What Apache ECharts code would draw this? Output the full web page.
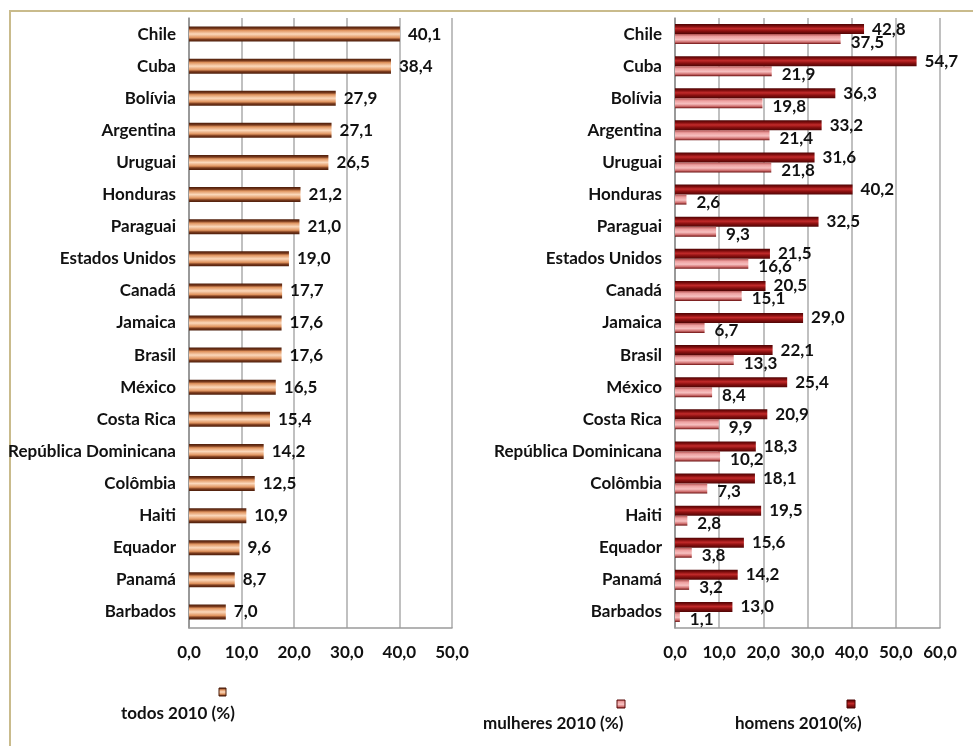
<!DOCTYPE html>
<html>
<head>
<meta charset="utf-8">
<script src="https://cdn.jsdelivr.net/npm/echarts@6/dist/echarts.min.js"></script>
<style>
  html, body { margin: 0; padding: 0; background: #fff; }
  #chart { width: 973px; height: 746px; }
</style>
</head>
<body>
<div id="chart"></div>
<script>
// Population shares (%) in 2010, by country
const countries = ['Chile', 'Cuba', 'Bolívia', 'Argentina', 'Uruguai', 'Honduras', 'Paraguai',
  'Estados Unidos', 'Canadá', 'Jamaica', 'Brasil', 'México', 'Costa Rica',
  'República Dominicana', 'Colômbia', 'Haiti', 'Equador', 'Panamá', 'Barbados'];
const todos = [40.1, 38.4, 27.9, 27.1, 26.5, 21.2, 21.0, 19.0, 17.7, 17.6, 17.6, 16.5, 15.4, 14.2, 12.5, 10.9, 9.6, 8.7, 7.0];
const homens = [42.8, 54.7, 36.3, 33.2, 31.6, 40.2, 32.5, 21.5, 20.5, 29.0, 22.1, 25.4, 20.9, 18.3, 18.1, 19.5, 15.6, 14.2, 13.0];
const mulheres = [37.5, 21.9, 19.8, 21.4, 21.8, 2.6, 9.3, 16.6, 15.1, 6.7, 13.3, 8.4, 9.9, 10.2, 7.3, 2.8, 3.8, 3.2, 1.1];
const seriesNames = ['todos 2010 (%)', 'mulheres 2010 (%)', 'homens 2010(%)'];
const leftAxis = { min: 0, max: 50, interval: 10 };
const rightAxis = { min: 0, max: 60, interval: 10 };

const FONT = 'Lato, "Noto Sans", sans-serif';
const FS = 17;
const TEXT = '#111';
const fmt = v => Number(v).toFixed(1).replace('.', ',');

function vGrad(stops) {
  return new echarts.graphic.LinearGradient(0, 0, 0, 1,
    stops.map(([o, c]) => ({ offset: o, color: c })));
}
const todosFill = () => vGrad([[0, '#4a1c0a'], [0.14, '#7a3a1c'], [0.26, '#e0945f'], [0.5, '#fbd8bb'], [0.74, '#e0945f'], [0.86, '#7a3a1c'], [1, '#4a1c0a']]);
const homensFill = () => vGrad([[0, '#4e0505'], [0.2, '#7c0c0c'], [0.45, '#c22a2a'], [0.7, '#8a1010'], [1, '#4e0505']]);
const mulheresFill = () => vGrad([[0, '#b05050'], [0.25, '#eea0a0'], [0.55, '#f7c0c0'], [0.8, '#d07070'], [1, '#6a0e0e']]);

const labelBase = {
  show: true, position: 'right', color: TEXT, fontFamily: FONT,
  fontWeight: 'bold', fontSize: FS, formatter: p => fmt(p.value)
};

function catAxis(gridIndex) {
  return {
    type: 'category', gridIndex, data: countries, inverse: true,
    axisLine: { show: true, lineStyle: { color: '#8c8c8c', width: 1.5 } },
    axisTick: { show: false },
    axisLabel: { margin: 13, color: TEXT, fontFamily: FONT, fontWeight: 'bold', fontSize: FS }
  };
}
function valAxis(gridIndex, cfg) {
  return {
    type: 'value', gridIndex, min: cfg.min, max: cfg.max, interval: cfg.interval,
    axisLine: { show: true, lineStyle: { color: '#9a9a9a', width: 1.5 } },
    axisTick: { show: false },
    splitLine: { show: true, lineStyle: { color: '#ababab', width: 1.5 } },
    axisLabel: { margin: 16, color: TEXT, fontFamily: FONT, fontWeight: 'bold', fontSize: FS, formatter: fmt }
  };
}

const chart = echarts.init(document.getElementById('chart'), null, { renderer: 'canvas' });
chart.setOption({
  backgroundColor: '#fff',
  animation: false,
  grid: [
    { left: 189, top: 18, width: 263, height: 610 },
    { left: 675, top: 18, width: 265, height: 610 }
  ],
  xAxis: [valAxis(0, leftAxis), valAxis(1, rightAxis)],
  yAxis: [catAxis(0), catAxis(1)],
  series: [
    {
      name: seriesNames[0], type: 'bar', xAxisIndex: 0, yAxisIndex: 0,
      data: todos, barWidth: 15,
      itemStyle: { color: todosFill() },
      label: Object.assign({}, labelBase, { distance: 8 })
    },
    {
      name: seriesNames[2], type: 'bar', xAxisIndex: 1, yAxisIndex: 1,
      data: homens, barWidth: 10, barGap: '0%',
      itemStyle: { color: homensFill() },
      label: Object.assign({}, labelBase, { distance: 8, offset: [0, 0] })
    },
    {
      name: seriesNames[1], type: 'bar', xAxisIndex: 1, yAxisIndex: 1,
      data: mulheres, barWidth: 10, barGap: '0%',
      itemStyle: { color: mulheresFill() },
      label: Object.assign({}, labelBase, { distance: 10, offset: [0, 3] })
    }
  ],
  graphic: [
    // outer frame (top and left edges)
    { type: 'line', shape: { x1: 9, y1: 11, x2: 973, y2: 11 }, style: { stroke: '#c9bb8c', lineWidth: 2 } },
    { type: 'line', shape: { x1: 10, y1: 10, x2: 10, y2: 746 }, style: { stroke: '#c9bb8c', lineWidth: 2 } },
    // legend entries: marker above the right end of each caption
    { type: 'rect', shape: { x: 219, y: 688, width: 7, height: 8 }, style: { fill: todosFill(), stroke: '#4a1c0a', lineWidth: 1 } },
    { type: 'text', x: 121, y: 714, style: { text: seriesNames[0], fill: TEXT, font: 'bold ' + FS + 'px ' + FONT, textVerticalAlign: 'middle' } },
    { type: 'rect', shape: { x: 617, y: 700, width: 8, height: 8 }, style: { fill: mulheresFill(), stroke: '#5a0a0a', lineWidth: 1 } },
    { type: 'text', x: 483, y: 724, style: { text: seriesNames[1], fill: TEXT, font: 'bold ' + FS + 'px ' + FONT, textVerticalAlign: 'middle' } },
    { type: 'rect', shape: { x: 847, y: 700, width: 8, height: 8 }, style: { fill: homensFill(), stroke: '#4e0505', lineWidth: 1 } },
    { type: 'text', x: 735, y: 724, style: { text: seriesNames[2], fill: TEXT, font: 'bold ' + FS + 'px ' + FONT, textVerticalAlign: 'middle' } }
  ]
});
</script>
</body>
</html>
